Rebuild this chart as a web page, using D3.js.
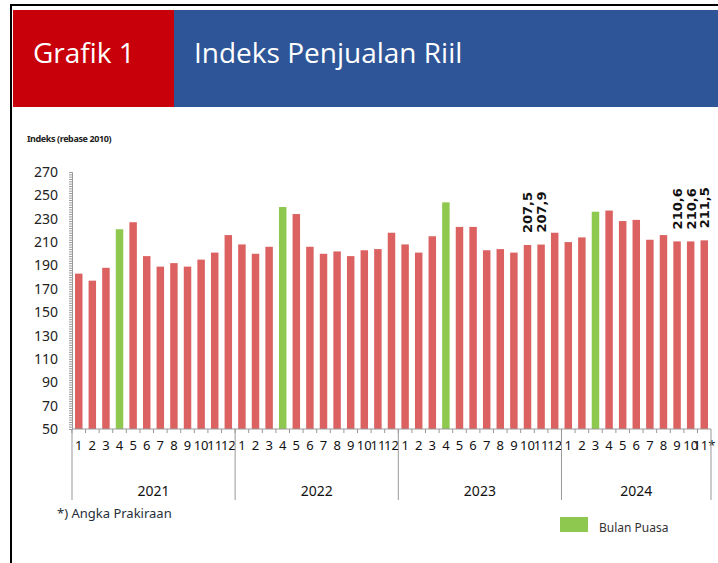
<!DOCTYPE html>
<html>
<head>
<meta charset="utf-8">
<script src="https://cdn.jsdelivr.net/npm/d3@7"></script>
<style>
  body { margin: 0; background: #fff; }
  svg { display: block; }
</style>
</head>
<body>
<div id="chart"></div>
<script>

// data
var years = ["2021", "2022", "2023", "2024"];
var values2021 = [183, 177, 188, 221, 227, 198, 189, 192, 189, 195, 201, 216];
var values2022 = [208, 200, 206, 240, 234, 206, 200, 202, 198, 203, 204, 218];
var values2023 = [208, 201, 215, 244, 223, 223, 203, 204, 201, 207.5, 207.9, 218];
var values2024 = [210, 214, 236, 237, 228, 229, 212, 216, 210.6, 210.6, 211.5];
var monthLabels2024 = ["1", "2", "3", "4", "5", "6", "7", "8", "9", "10", "11*"];
var puasa = ["2021-4", "2022-4", "2023-4", "2024-3"];
var labelled = ["2023-10", "2023-11", "2024-9", "2024-10", "2024-11"];
var yTicks = [50, 70, 90, 110, 130, 150, 170, 190, 210, 230, 250, 270];

var W = 718, H = 563;
var plotLeft = 72, plotRight = 711, plotTop = 172, plotBottom = 429;

var allValues = [values2021, values2022, values2023, values2024];
var data = [];
for (var i = 0; i < years.length; i++) {
  for (var j = 0; j < allValues[i].length; j++) {
    var lab = (i == 3) ? monthLabels2024[j] : String(j + 1);
    data.push({ key: years[i] + "-" + (j + 1), year: years[i], month: lab, value: allValues[i][j] });
  }
}

var svg = d3.select("#chart").append("svg")
    .attr("width", W)
    .attr("height", H);

// frame lines
svg.append("rect").attr("x", 10).attr("y", 4).attr("width", W).attr("height", 2).attr("fill", "#000");
svg.append("rect").attr("x", 10).attr("y", 4).attr("width", 2).attr("height", H).attr("fill", "#000");

// header
svg.append("rect").attr("x", 13).attr("y", 10).attr("width", 161).attr("height", 97).attr("fill", "#c8000a");
svg.append("rect").attr("x", 174).attr("y", 10).attr("width", W - 174).attr("height", 97).attr("fill", "#2e5597");
svg.append("text").attr("x", 33).attr("y", 63)
    .style("font-family", "Open Sans").style("font-size", "28px").attr("fill", "#fff")
    .text("Grafik 1");
svg.append("text").attr("x", 194).attr("y", 63)
    .style("font-family", "Open Sans").style("font-size", "28px").attr("fill", "#fff")
    .text("Indeks Penjualan Riil");

svg.append("text").attr("x", 27).attr("y", 142)
    .style("font-family", "Noto Sans").style("font-size", "9px").style("font-weight", "bold")
    .style("letter-spacing", "-0.4px").attr("fill", "#222")
    .text("Indeks (rebase 2010)");

var x = d3.scaleBand()
    .domain(data.map(function (d) { return d.key; }))
    .range([plotLeft, plotRight])
    .paddingInner(0.45)
    .paddingOuter(0.22);

var y = d3.scaleLinear()
    .domain([50, 270])
    .range([plotBottom, plotTop]);

var gap = (x.step() - x.bandwidth()) / 2;

// y axis: labels, minor ticks
var yAxis = svg.append("g")
    .attr("transform", "translate(" + plotLeft + ",0)")
    .call(d3.axisLeft(y).tickValues(yTicks).tickSize(0).tickPadding(14));
yAxis.select(".domain").remove();
yAxis.selectAll("text")
    .style("font-family", "Noto Sans").style("font-size", "14px").attr("fill", "#222");

var yMinor = svg.append("g")
    .attr("transform", "translate(" + plotLeft + ",0)")
    .call(d3.axisLeft(y).tickValues(d3.range(50, 271, 2)).tickSize(3).tickFormat(""));
yMinor.selectAll("line").attr("stroke", "#999");
yMinor.select(".domain").attr("stroke", "#999");

// bars
svg.append("g")
    .selectAll("rect")
    .data(data)
    .enter().append("rect")
    .attr("x", function (d) { return x(d.key); })
    .attr("y", function (d) { return y(d.value); })
    .attr("width", x.bandwidth())
    .attr("height", function (d) { return y(50) - y(d.value); })
    .attr("fill", function (d) { return puasa.indexOf(d.key) >= 0 ? "#8fc84f" : "#dc6262"; });

// value labels
svg.append("g")
    .selectAll("text")
    .data(data.filter(function (d) { return labelled.indexOf(d.key) >= 0; }))
    .enter().append("text")
    .attr("transform", function (d) {
      var cx = x(d.key) + x.bandwidth() / 2 + 5;
      return "translate(" + cx + "," + (y(d.value) - 12) + ") rotate(-90)";
    })
    .style("font-family", "DejaVu Sans").style("font-size", "13px").style("font-weight", "bold")
    .attr("fill", "#111")
    .text(function (d) { return String(d.value).replace(".", ","); });

// x axis line + month boundary ticks
svg.append("line").attr("x1", plotLeft).attr("x2", plotRight).attr("y1", plotBottom).attr("y2", plotBottom)
    .attr("stroke", "#999");
svg.append("g")
    .selectAll("line")
    .data(data)
    .enter().append("line")
    .attr("x1", function (d) { return x(d.key) - gap; })
    .attr("x2", function (d) { return x(d.key) - gap; })
    .attr("y1", plotBottom).attr("y2", plotBottom + 4)
    .attr("stroke", "#999");

// month labels
var xAxis = svg.append("g")
    .attr("transform", "translate(0," + plotBottom + ")")
    .call(d3.axisBottom(x).tickSize(0).tickPadding(12)
      .tickFormat(function (k) { return data.find(function (d) { return d.key == k; }).month; }));
xAxis.select(".domain").remove();
xAxis.selectAll("text")
    .style("font-family", "Noto Sans").style("font-size", "13px").attr("fill", "#111");

// year separators and year labels
var yearStart = years.map(function (yr) { return x(yr + "-1") - gap; });
yearStart[0] = plotLeft;
yearStart.push(plotRight);
svg.append("g")
    .selectAll("line")
    .data(yearStart)
    .enter().append("line")
    .attr("x1", function (d) { return d; }).attr("x2", function (d) { return d; })
    .attr("y1", plotBottom).attr("y2", 500)
    .attr("stroke", "#999");
svg.append("g")
    .selectAll("text")
    .data(years)
    .enter().append("text")
    .attr("x", function (d, i) { return (yearStart[i] + yearStart[i + 1]) / 2; })
    .attr("y", 496)
    .attr("text-anchor", "middle")
    .style("font-family", "Noto Sans").style("font-size", "14px").attr("fill", "#111")
    .text(function (d) { return d; });

// note + legend
svg.append("text").attr("x", 57).attr("y", 518)
    .style("font-family", "Noto Sans").style("font-size", "13px").attr("fill", "#1f2f3a")
    .text("*) Angka Prakiraan");
svg.append("rect").attr("x", 560).attr("y", 517).attr("width", 28).attr("height", 15).attr("fill", "#8fc84f");
svg.append("text").attr("x", 599).attr("y", 532)
    .style("font-family", "Noto Sans").style("font-size", "12px").attr("fill", "#333")
    .text("Bulan Puasa");

</script>
</body>
</html>
